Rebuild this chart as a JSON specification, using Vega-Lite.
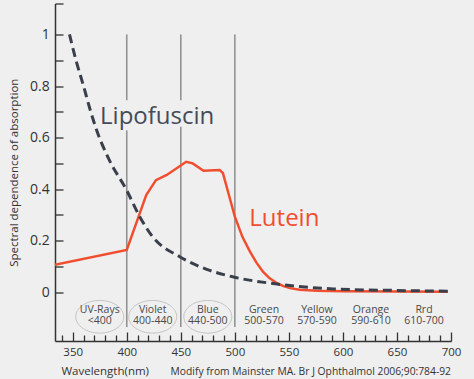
{
  "$schema": "https://vega.github.io/schema/vega-lite/v6.json",
  "width": 396,
  "height": 337.5,
  "autosize": "none",
  "padding": {"left": 55, "top": 3.5, "right": 23, "bottom": 38},
  "background": "#efefef",
  "config": {"view": {"stroke": null}, "font": "Open Sans"},
  "title": {
    "text": "Modify from Mainster MA. Br J Ophthalmol 2006;90:784-92",
    "orient": "bottom",
    "anchor": "end",
    "frame": "group",
    "fontSize": 10.3,
    "fontWeight": "normal",
    "color": "#333333",
    "offset": -9.5
  },
  "datasets": {
    "rules": [
      {"wl": 400, "v": 1, "v2": 0.745},
      {"wl": 400, "v": 0.628, "v2": -0.135},
      {"wl": 450, "v": 1, "v2": 0.745},
      {"wl": 450, "v": 0.642, "v2": -0.135},
      {"wl": 500, "v": 1, "v2": -0.135}
    ],
    "bands": [
      {"wl": 375, "v": -0.067, "label": "UV-Rays\n<400", "ring": "yes"},
      {"wl": 424, "v": -0.067, "label": "Violet\n400-440", "ring": "yes"},
      {"wl": 475, "v": -0.067, "label": "Blue\n440-500", "ring": "yes"},
      {"wl": 527, "v": -0.067, "label": "Green\n500-570", "ring": "no"},
      {"wl": 576, "v": -0.067, "label": "Yellow\n570-590", "ring": "no"},
      {"wl": 626, "v": -0.067, "label": "Orange\n590-610", "ring": "no"},
      {"wl": 675, "v": -0.067, "label": "Rrd\n610-700", "ring": "no"}
    ],
    "lutein": [
      {"wl": 333, "v": 0.106},
      {"wl": 400, "v": 0.164},
      {"wl": 412, "v": 0.306},
      {"wl": 418, "v": 0.377},
      {"wl": 427, "v": 0.435},
      {"wl": 437, "v": 0.455},
      {"wl": 455, "v": 0.506},
      {"wl": 461, "v": 0.5},
      {"wl": 471, "v": 0.471},
      {"wl": 486, "v": 0.474},
      {"wl": 489, "v": 0.462},
      {"wl": 500, "v": 0.293},
      {"wl": 507, "v": 0.215},
      {"wl": 514, "v": 0.158},
      {"wl": 520, "v": 0.115},
      {"wl": 526, "v": 0.08},
      {"wl": 532, "v": 0.055},
      {"wl": 539, "v": 0.035},
      {"wl": 545, "v": 0.024},
      {"wl": 551, "v": 0.016},
      {"wl": 560, "v": 0.01},
      {"wl": 576, "v": 0.006},
      {"wl": 600, "v": 0.004},
      {"wl": 650, "v": 0.003},
      {"wl": 697, "v": 0.002}
    ],
    "lipofuscin": [
      {"wl": 347, "v": 1.0},
      {"wl": 353, "v": 0.9},
      {"wl": 360, "v": 0.8},
      {"wl": 366, "v": 0.71},
      {"wl": 372, "v": 0.63},
      {"wl": 383, "v": 0.52},
      {"wl": 400, "v": 0.395},
      {"wl": 412, "v": 0.293},
      {"wl": 424, "v": 0.215},
      {"wl": 449, "v": 0.138},
      {"wl": 474, "v": 0.089},
      {"wl": 498, "v": 0.06},
      {"wl": 539, "v": 0.032},
      {"wl": 591, "v": 0.013},
      {"wl": 650, "v": 0.007},
      {"wl": 697, "v": 0.004}
    ],
    "names": [
      {"wl": 375.3, "v": 0.652, "name": "Lipofuscin"},
      {"wl": 513.4, "v": 0.257, "name": "Lutein"}
    ]
  },
  "encoding": {
    "x": {
      "field": "wl",
      "type": "quantitative",
      "scale": {"domain": [333.6, 700], "nice": false, "zero": false},
      "axis": {
        "values": [340, 350, 360, 370, 380, 390, 400, 410, 420, 430, 440, 450, 460, 470, 480, 490, 500, 510, 520, 530, 540, 550, 560, 570, 580, 590, 600, 610, 620, 630, 640, 650, 660, 670, 680, 690, 700],
        "labelExpr": "datum.value % 50 === 0 ? datum.label : ''",
        "format": "d",
        "grid": false,
        "domainColor": "#333333",
        "domainWidth": 1.5,
        "tickColor": "#333333",
        "tickWidth": 1.3,
        "tickSize": {"condition": {"test": "datum.value % 50 === 0", "value": -9}, "value": -6},
        "labelFontSize": 11.5,
        "labelColor": "#333333",
        "labelPadding": 14.5,
        "labelFlush": false,
        "title": "Wavelength(nm)",
        "titleFontSize": 11.5,
        "titleFontWeight": "normal",
        "titleColor": "#333333",
        "titleAnchor": "start",
        "titleAlign": "left",
        "titleX": 6,
        "titlePadding": 7
      }
    },
    "y": {
      "field": "v",
      "type": "quantitative",
      "scale": {"domain": [-0.189, 1.12], "nice": false, "zero": false},
      "axis": {
        "values": [0, 0.1, 0.2, 0.3, 0.4, 0.5, 0.6, 0.7, 0.8, 0.9, 1, 1.12],
        "format": ".1~f",
        "labelExpr": "(round(datum.value * 10) % 2 === 0 && datum.value <= 1) ? datum.label : ''",
        "grid": false,
        "domainColor": "#333333",
        "domainWidth": 1.5,
        "tickColor": "#333333",
        "tickWidth": 1.3,
        "tickSize": -8,
        "labelFontSize": 14,
        "labelColor": "#333333",
        "labelPadding": 13.7,
        "labelFlush": false,
        "title": "Spectral dependence of absorption",
        "titleFontSize": 11.5,
        "titleFontWeight": "normal",
        "titleColor": "#333333",
        "titlePadding": 10
      }
    }
  },
  "layer": [
    {
      "data": {"name": "rules"},
      "mark": {"type": "rule", "color": "#939393", "strokeWidth": 1.6},
      "encoding": {"y2": {"field": "v2"}}
    },
    {
      "data": {"name": "bands"},
      "transform": [{"filter": "datum.ring === 'yes'"}],
      "mark": {
        "type": "point",
        "shape": "M-1,0A1,0.68,0,1,1,1,0A1,0.68,0,1,1,-1,0Z",
        "size": 2304,
        "filled": false,
        "stroke": "#c4c4c4",
        "strokeWidth": 1,
        "opacity": 1
      },
      "encoding": {"y": {"datum": -0.095}}
    },
    {
      "data": {"name": "bands"},
      "mark": {
        "type": "text",
        "lineBreak": "\n",
        "fontSize": 10.5,
        "lineHeight": 11,
        "color": "#4a4a4a",
        "align": "center",
        "baseline": "middle"
      },
      "encoding": {"text": {"field": "label"}}
    },
    {
      "data": {"name": "lutein"},
      "mark": {"type": "line", "color": "#f04e2e", "strokeWidth": 2.5, "interpolate": "linear", "clip": true}
    },
    {
      "data": {"name": "lipofuscin"},
      "mark": {"type": "line", "color": "#3a404b", "strokeWidth": 3, "strokeDash": [9, 5], "interpolate": "monotone", "clip": true}
    },
    {
      "data": {"name": "names"},
      "mark": {"type": "text", "fontSize": 24, "align": "left", "baseline": "alphabetic"},
      "encoding": {
        "text": {"field": "name"},
        "color": {
          "field": "name",
          "type": "nominal",
          "scale": {"domain": ["Lipofuscin", "Lutein"], "range": ["#454b57", "#f04e2e"]},
          "legend": null
        }
      }
    }
  ]
}
